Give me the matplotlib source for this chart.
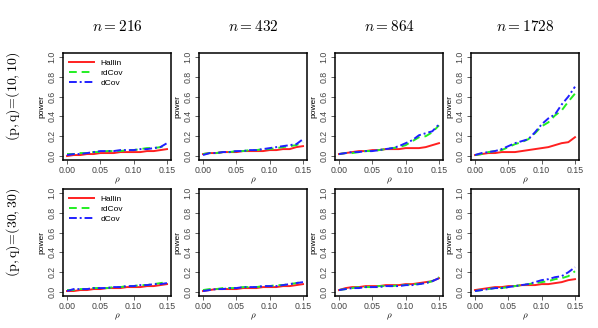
import numpy as np
import matplotlib
matplotlib.use('Agg')
import matplotlib.pyplot as plt

plt.rcParams['mathtext.fontset'] = 'cm'
plt.rcParams['font.family'] = ['Liberation Sans', 'DejaVu Sans']

rho = [0.00, 0.01, 0.02, 0.03, 0.04, 0.05, 0.06, 0.07, 0.08, 0.09, 0.10, 0.11, 0.12, 0.13, 0.14, 0.15]
sizes = [216, 432, 864, 1728]
dims = ['(10,10)', '(30,30)']

# power curves, row (p,q)=(10,10)
hallin_10 = [
    [0.00, 0.01, 0.01, 0.02, 0.02, 0.03, 0.03, 0.03, 0.04, 0.04, 0.04, 0.04, 0.05, 0.05, 0.06, 0.07],
    [0.02, 0.03, 0.03, 0.04, 0.04, 0.04, 0.05, 0.05, 0.05, 0.05, 0.06, 0.06, 0.07, 0.07, 0.09, 0.10],
    [0.02, 0.03, 0.04, 0.05, 0.05, 0.06, 0.06, 0.07, 0.07, 0.07, 0.08, 0.08, 0.08, 0.09, 0.11, 0.13],
    [0.01, 0.02, 0.03, 0.03, 0.04, 0.04, 0.04, 0.05, 0.06, 0.07, 0.08, 0.09, 0.11, 0.13, 0.14, 0.19],
]
rdcov_10 = [
    [0.02, 0.02, 0.03, 0.03, 0.04, 0.04, 0.05, 0.05, 0.05, 0.06, 0.06, 0.07, 0.08, 0.08, 0.09, 0.11],
    [0.02, 0.03, 0.03, 0.04, 0.04, 0.05, 0.05, 0.06, 0.06, 0.07, 0.07, 0.08, 0.09, 0.10, 0.11, 0.14],
    [0.02, 0.03, 0.03, 0.04, 0.05, 0.05, 0.06, 0.07, 0.08, 0.09, 0.11, 0.15, 0.19, 0.20, 0.24, 0.31],
    [0.01, 0.02, 0.04, 0.05, 0.06, 0.09, 0.12, 0.14, 0.17, 0.23, 0.30, 0.34, 0.41, 0.46, 0.55, 0.63],
]
dcov_10 = [
    [0.01, 0.02, 0.02, 0.03, 0.04, 0.05, 0.05, 0.05, 0.06, 0.06, 0.06, 0.07, 0.07, 0.08, 0.09, 0.13],
    [0.01, 0.03, 0.03, 0.04, 0.04, 0.05, 0.05, 0.06, 0.06, 0.07, 0.08, 0.09, 0.10, 0.11, 0.12, 0.17],
    [0.02, 0.03, 0.04, 0.04, 0.05, 0.05, 0.06, 0.07, 0.08, 0.10, 0.13, 0.16, 0.21, 0.23, 0.25, 0.32],
    [0.01, 0.03, 0.04, 0.05, 0.07, 0.10, 0.13, 0.15, 0.17, 0.24, 0.32, 0.38, 0.42, 0.52, 0.60, 0.70],
]

# power curves, row (p,q)=(30,30)
hallin_30 = [
    [0.01, 0.01, 0.02, 0.02, 0.03, 0.03, 0.04, 0.04, 0.04, 0.05, 0.05, 0.05, 0.06, 0.06, 0.07, 0.08],
    [0.01, 0.02, 0.03, 0.03, 0.03, 0.03, 0.04, 0.04, 0.04, 0.05, 0.05, 0.05, 0.06, 0.06, 0.07, 0.08],
    [0.02, 0.04, 0.05, 0.05, 0.06, 0.06, 0.06, 0.07, 0.07, 0.07, 0.08, 0.08, 0.09, 0.10, 0.11, 0.14],
    [0.02, 0.03, 0.04, 0.05, 0.05, 0.06, 0.06, 0.07, 0.07, 0.07, 0.08, 0.08, 0.09, 0.10, 0.12, 0.13],
]
rdcov_30 = [
    [0.02, 0.02, 0.03, 0.03, 0.04, 0.04, 0.04, 0.05, 0.05, 0.06, 0.06, 0.07, 0.07, 0.08, 0.09, 0.10],
    [0.02, 0.03, 0.03, 0.04, 0.04, 0.04, 0.05, 0.05, 0.05, 0.06, 0.06, 0.07, 0.07, 0.08, 0.09, 0.11],
    [0.02, 0.03, 0.04, 0.05, 0.05, 0.05, 0.06, 0.06, 0.06, 0.07, 0.07, 0.08, 0.08, 0.09, 0.11, 0.15],
    [0.01, 0.02, 0.03, 0.04, 0.04, 0.05, 0.06, 0.07, 0.08, 0.09, 0.10, 0.11, 0.13, 0.14, 0.16, 0.21],
]
dcov_30 = [
    [0.01, 0.03, 0.03, 0.03, 0.04, 0.04, 0.04, 0.05, 0.05, 0.06, 0.06, 0.07, 0.07, 0.08, 0.08, 0.09],
    [0.01, 0.02, 0.03, 0.03, 0.04, 0.04, 0.05, 0.05, 0.05, 0.06, 0.06, 0.06, 0.07, 0.08, 0.09, 0.10],
    [0.02, 0.03, 0.04, 0.04, 0.05, 0.05, 0.05, 0.06, 0.06, 0.06, 0.07, 0.07, 0.08, 0.09, 0.11, 0.14],
    [0.01, 0.02, 0.03, 0.04, 0.04, 0.05, 0.06, 0.07, 0.08, 0.10, 0.12, 0.13, 0.15, 0.16, 0.20, 0.25],
]

rows = [(hallin_10, rdcov_10, dcov_10), (hallin_30, rdcov_30, dcov_30)]

W, H = 598., 328.
fig = plt.figure(figsize=(W / 100, H / 100), dpi=100)

lefts = [63, 199, 335, 471]
tops = [53, 189]
aw, ah = 108, 107

for r in range(2):
    hal, rdc, dco = rows[r]
    for c in range(4):
        ax = fig.add_axes([lefts[c] / W, 1 - (tops[r] + ah) / H, aw / W, ah / H])
        ax.plot(rho, hal[c], color='#ff2020', lw=1.4, label='Hallin')
        ax.plot(rho, rdc[c], color='#22ee22', lw=1.4, ls=(0, (4, 2.5)), label='rdCov')
        ax.plot(rho, dco[c], color='#2020ff', lw=1.4, ls=(0, (4, 1.5, 1, 1.5)), label='dCov')
        ax.set_xlim(-0.006, 0.156)
        ax.set_ylim(-0.04, 1.04)
        ax.set_xticks([0.0, 0.05, 0.10, 0.15])
        ax.set_xticklabels(['0.00', '0.05', '0.10', '0.15'])
        ax.set_yticks([0.0, 0.2, 0.4, 0.6, 0.8, 1.0])
        ax.set_yticklabels(['0.0', '0.2', '0.4', '0.6', '0.8', '1.0'], rotation=90, va='center')
        ax.tick_params(labelsize=6.3, length=3, width=0.6, pad=1.5, colors='#444444')
        for s in ax.spines.values():
            s.set_linewidth(1.1)
        ax.set_xlabel(r'$\rho$', fontsize=6.5, labelpad=0)
        ax.set_ylabel('power', fontsize=6, labelpad=2)
        if c == 0:
            ax.legend(loc='upper left', frameon=False, fontsize=6, handlelength=3,
                      labelspacing=0.3, borderaxespad=0.3, handletextpad=0.8)
        if r == 0:
            ax.set_title('$n = %d$' % sizes[c], fontsize=11, pad=16)

for r in range(2):
    yc = 1 - (tops[r] + ah / 2 - 10) / H
    fig.text(13 / W, yc, r'$\mathrm{(p,q)}\!=\!%s$' % dims[r], rotation=90,
             fontsize=10, ha='center', va='center')

fig.savefig('out.png', dpi=100)
